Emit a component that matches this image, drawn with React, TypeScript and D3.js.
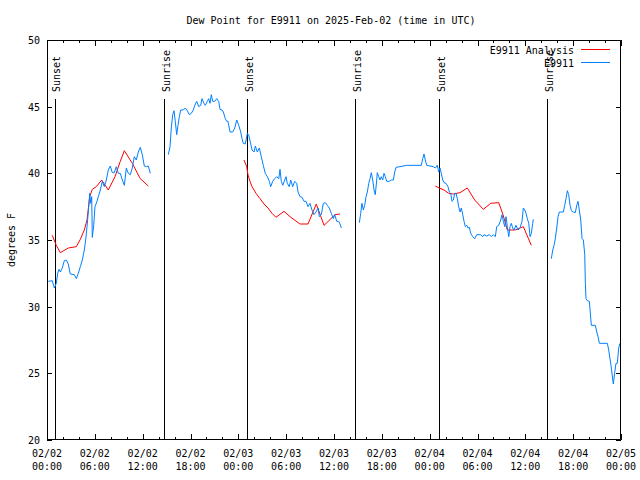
import React from "react";
import * as d3 from "d3";

type P = [number, number];

// Observations (E9911), hours since 02/02 00:00 UTC, dew point °F
const obs1: P[] = [[0.16,31.9],[0.66,31.95],[0.92,31.4],[1.17,31.75],[1.34,32.5],[1.51,32.8],[1.67,32.6],[1.92,32.9],[2.17,33.45],[2.42,33.5],[2.67,33.2],[2.92,32.45],[3.42,32.4],[3.68,32.1],[3.93,32.5],[4.18,33.0],[4.43,33.5],[4.68,34.25],[4.85,35.0],[5.02,36.0],[5.18,37.1],[5.36,38.5],[5.48,37.75],[5.61,38.25],[5.68,35.2],[5.86,36.1],[6.02,37.5],[6.27,37.9],[6.44,38.25],[6.69,38.75],[6.94,39.4],[7.19,39.0],[7.44,39.5],[7.69,40.25],[7.94,40.55],[8.19,40.05],[8.44,40.05],[8.69,40.5],[8.94,40.0],[9.19,40.0],[9.45,39.5],[9.70,39.1],[9.95,40.4],[10.20,40.0],[10.45,39.9],[10.70,40.4],[10.95,41.25],[11.20,41.0],[11.45,41.6],[11.70,41.95],[11.95,41.4],[12.21,40.55],[12.46,40.5],[12.71,40.55],[12.96,40.0]];
const obs2: P[] = [[15.22,41.4],[15.43,42.0],[15.59,43.4],[15.77,44.4],[15.93,44.7],[16.09,43.9],[16.27,42.9],[16.43,43.6],[16.60,44.25],[16.77,44.75],[17.10,44.75],[17.35,44.9],[17.60,44.7],[17.85,44.4],[18.10,44.5],[18.35,44.75],[18.53,45.1],[18.78,45.4],[19.03,45.0],[19.28,45.1],[19.44,45.6],[19.69,45.25],[19.86,45.1],[20.11,45.4],[20.28,45.6],[20.45,45.25],[20.61,45.9],[20.79,45.4],[21.04,45.4],[21.29,45.6],[21.54,45.4],[21.70,44.8],[21.95,44.75],[22.12,44.6],[22.37,44.1],[22.54,43.9],[22.70,43.9],[22.96,43.1],[23.29,43.1],[23.55,43.4],[23.80,44.0],[24.05,43.6],[24.30,43.1],[24.46,42.6],[24.62,42.25],[24.87,42.2],[25.13,43.0],[25.30,42.9],[25.72,41.75],[25.97,41.6],[26.13,42.05],[26.38,41.6],[26.63,41.9],[26.88,41.25],[27.13,40.6],[27.38,40.0],[27.64,39.75],[27.89,39.4],[28.06,39.0],[28.31,39.4],[28.56,39.6],[28.81,39.75],[29.07,39.6],[29.23,40.3],[29.39,39.4],[29.57,39.1],[29.82,39.5],[29.98,39.75],[30.14,39.25],[30.39,39.0],[30.57,39.5],[30.82,39.0],[31.07,39.4],[31.32,39.25],[31.49,38.6],[31.74,38.25],[31.99,38.2],[32.24,37.9],[32.49,37.9],[32.74,37.5],[32.99,37.75],[33.24,37.25],[33.49,36.9],[33.74,37.1],[34.00,37.4],[34.16,36.75],[34.41,36.9],[34.66,37.75],[34.91,37.8],[35.16,37.6],[35.41,37.4],[35.66,37.0],[35.91,36.6],[36.09,36.9],[36.34,36.4],[36.59,36.4],[36.75,36.2],[36.92,35.9]];
const obs3: P[] = [[39.18,36.3],[39.35,37.0],[39.51,37.75],[39.68,37.25],[39.85,37.6],[40.02,38.25],[40.18,38.6],[40.36,39.25],[40.52,39.6],[40.68,40.05],[40.86,39.5],[41.02,38.75],[41.18,38.4],[41.36,39.5],[41.43,40.05],[41.61,39.75],[41.77,39.5],[41.93,39.75],[42.11,39.5],[42.27,40.0],[42.44,39.75],[42.61,39.4],[42.94,39.4],[43.19,39.5],[43.44,39.5],[43.62,40.1],[43.78,40.45],[44.28,40.5],[45.12,40.6],[46.16,40.6],[46.95,40.6],[47.13,41.1],[47.29,41.45],[47.45,41.0],[47.63,40.6],[48.04,40.55],[48.46,40.5],[48.71,40.4],[48.96,40.6],[49.13,40.1],[49.30,40.4],[49.46,40.0],[49.64,39.5],[49.80,39.3],[50.05,39.25],[50.30,39.0],[50.47,38.6],[50.64,38.5],[50.80,37.9],[50.97,38.0],[51.14,38.5],[51.31,38.5],[51.47,38.1],[51.64,37.5],[51.81,37.1],[51.97,37.4],[52.15,36.9],[52.31,36.4],[52.47,36.0],[52.65,36.1],[52.81,35.9],[52.98,35.95],[53.15,35.5],[53.40,35.25],[53.65,35.1],[53.90,35.4],[54.40,35.4],[54.65,35.25],[54.82,35.4],[55.16,35.3],[55.48,35.4],[55.73,35.25],[55.98,35.4],[56.24,35.25],[56.41,36.0],[56.66,36.1],[56.91,36.5],[57.08,36.9],[57.24,36.4],[57.42,36.0],[57.58,36.75],[57.74,36.0],[57.92,35.25],[58.08,36.0],[58.24,36.25],[58.42,35.9],[58.58,35.75],[58.83,36.1],[59.08,35.75],[59.33,35.9],[59.58,36.4],[59.75,37.4],[59.93,37.25],[60.09,37.0],[60.25,36.6],[60.43,36.25],[60.59,35.25],[60.75,35.5],[60.93,36.25],[61.00,36.55]];
const obs4: P[] = [[63.26,33.6],[63.44,34.25],[63.60,34.6],[63.76,35.1],[63.94,35.9],[64.10,36.75],[64.26,37.1],[64.77,37.1],[64.94,37.6],[65.10,38.1],[65.27,38.7],[65.44,38.4],[65.61,37.6],[65.77,37.2],[66.02,37.1],[66.27,37.05],[66.45,37.6],[66.61,37.9],[66.77,37.25],[66.95,36.5],[67.11,35.1],[67.28,35.0],[67.45,33.9],[67.53,31.75],[67.61,30.6],[67.78,30.45],[68.03,30.4],[68.21,29.1],[68.28,28.6],[68.78,28.6],[68.96,28.1],[69.12,27.75],[69.29,27.25],[70.29,27.25],[70.46,26.75],[70.62,26.1],[70.79,25.4],[70.97,24.5],[71.04,24.2],[71.21,25.05],[71.37,25.75],[71.54,25.75],[71.71,26.9],[71.87,27.25]];

// Analysis (E9911 Analysis)
const ana1: P[] = [[0.66,35.35],[1.17,34.6],[1.67,34.05],[2.67,34.4],[3.68,34.5],[4.18,35.05],[4.68,35.75],[5.02,36.5],[5.36,38.25],[5.68,38.8],[6.18,39.0],[6.86,39.5],[7.69,38.75],[8.53,39.75],[9.19,40.9],[9.70,41.7],[10.70,40.75],[11.70,39.6],[12.71,39.05]];
const ana2: P[] = [[24.71,41.0],[25.05,40.5],[25.21,39.9],[25.46,39.4],[25.72,39.0],[26.22,38.5],[26.72,38.1],[27.22,37.7],[27.72,37.4],[28.22,37.0],[28.72,36.7],[29.73,37.15],[30.48,36.75],[31.74,36.2],[32.74,36.2],[33.78,37.7],[34.75,36.1],[36.13,36.9],[36.75,36.95]];
const ana3: P[] = [[48.71,39.05],[49.21,38.9],[49.80,38.75],[50.39,38.5],[50.97,38.45],[51.81,38.55],[52.72,38.9],[53.65,38.0],[54.73,37.3],[55.66,37.75],[56.66,37.8],[57.2,36.9],[57.74,35.75],[58.74,35.75],[59.75,36.0],[60.75,34.6]];

const sunLabels = ["Sunset", "Sunrise", "Sunset", "Sunrise", "Sunset", "Sunrise"];
const sunHours = [1.0, 14.71, 25.11, 38.66, 49.2, 62.74];

const tickDates = ["02/02","02/02","02/02","02/02","02/03","02/03","02/03","02/03","02/04","02/04","02/04","02/04","02/05"];
const tickTimes = ["00:00","06:00","12:00","18:00","00:00","06:00","12:00","18:00","00:00","06:00","12:00","18:00","00:00"];
const yTicks = [20, 25, 30, 35, 40, 45, 50];

const FONT = "'DejaVu Sans Mono', monospace";
const RED = "#ff0000";
const BLUE = "#0080ff";

export default function App() {
  const W = 640, H = 480;
  const L = 47, R = 621, T = 40, B = 440;
  const x = d3.scaleLinear().domain([0, 72]).range([L, R]);
  const y = d3.scaleLinear().domain([20, 50]).range([B, T]);
  const major = d3.range(0, 73, 6);
  const minor = d3.range(0, 73, 2).filter((h) => h % 6 !== 0);
  const line = d3.line<P>().x((d) => x(d[0])).y((d) => y(d[1]));
  const obsSegs = [obs1, obs2, obs3, obs4];
  const anaSegs = [ana1, ana2, ana3];
  const px = (v: number) => Math.round(v) + 0.5;

  return (
    <div style={{ position: "absolute", left: 0, top: 0 }}>
      <svg width={W} height={H} style={{ display: "block", background: "#fff" }} fontFamily={FONT} fontSize={10}>
        <rect x={0} y={0} width={W} height={H} fill="#fff" />
        <text x={331} y={24} textAnchor="middle">Dew Point for E9911 on 2025-Feb-02 (time in UTC)</text>

        {/* y ticks */}
        {yTicks.map((v) => (
          <g key={"y" + v}>
            <line x1={L} x2={L + 5} y1={px(y(v))} y2={px(y(v))} stroke="#000" shapeRendering="crispEdges" />
            <line x1={R - 5} x2={R} y1={px(y(v))} y2={px(y(v))} stroke="#000" shapeRendering="crispEdges" />
            <text x={40} y={y(v) + 4} textAnchor="end">{v}</text>
          </g>
        ))}

        {/* x ticks */}
        {major.map((h, i) => (
          <g key={"x" + h}>
            <line x1={px(x(h))} x2={px(x(h))} y1={B} y2={B - 6} stroke="#000" shapeRendering="crispEdges" />
            <line x1={px(x(h))} x2={px(x(h))} y1={T} y2={T + 6} stroke="#000" shapeRendering="crispEdges" />
            <text x={x(h)} y={457} textAnchor="middle">{tickDates[i]}</text>
            <text x={x(h)} y={470} textAnchor="middle">{tickTimes[i]}</text>
          </g>
        ))}
        {minor.map((h) => (
          <g key={"m" + h}>
            <line x1={px(x(h))} x2={px(x(h))} y1={B} y2={B - 3} stroke="#000" shapeRendering="crispEdges" />
            <line x1={px(x(h))} x2={px(x(h))} y1={T} y2={T + 3} stroke="#000" shapeRendering="crispEdges" />
          </g>
        ))}

        {/* sunrise / sunset markers */}
        {sunHours.map((h, i) => (
          <g key={"s" + i}>
            <line x1={px(x(h))} x2={px(x(h))} y1={99} y2={B} stroke="#000" shapeRendering="crispEdges" />
            <text transform={`translate(${x(h) + 5.5},92) rotate(-90)`} textAnchor="start" x={0} y={0}>
              {sunLabels[i]}
            </text>
          </g>
        ))}

        {/* data */}
        {anaSegs.map((s, i) => (
          <path key={"a" + i} d={line(s) || ""} fill="none" stroke={RED} strokeWidth={1} />
        ))}
        {obsSegs.map((s, i) => (
          <path key={"o" + i} d={line(s) || ""} fill="none" stroke={BLUE} strokeWidth={1} />
        ))}

        {/* frame */}
        <rect x={L + 0.5} y={T + 0.5} width={R - L - 1} height={B - T - 1} fill="none" stroke="#000" shapeRendering="crispEdges" />

        <text transform="translate(15,240) rotate(-90)" textAnchor="middle">degrees F</text>

        {/* legend */}
        <text x={574} y={54} textAnchor="end">E9911 Analysis</text>
        <line x1={581} x2={610} y1={49.5} y2={49.5} stroke={RED} />
        <text x={574} y={67} textAnchor="end">E9911</text>
        <line x1={581} x2={610} y1={62.5} y2={62.5} stroke={BLUE} />
      </svg>
    </div>
  );
}
